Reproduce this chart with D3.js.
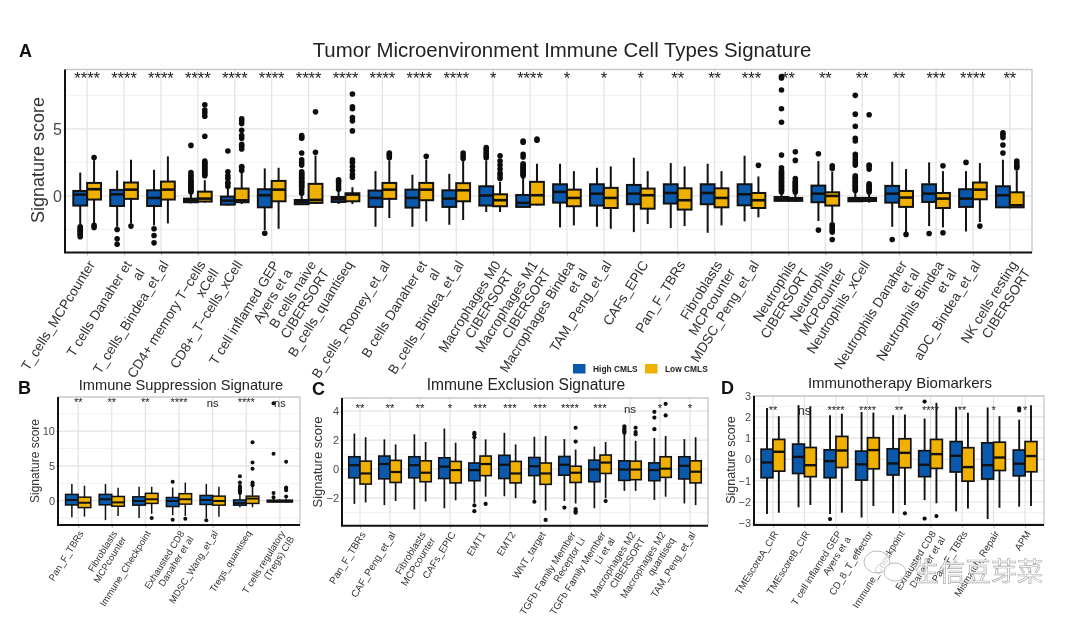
<!DOCTYPE html>
<html><head><meta charset="utf-8">
<script src="https://cdn.jsdelivr.net/npm/d3@7/dist/d3.min.js"></script>
<style>html,body{margin:0;background:#fff}svg{display:block;filter:blur(0.55px)}text{font-family:"Liberation Sans",Arial,sans-serif}</style>
</head><body><svg id="c" width="1080" height="618"></svg>
<script>
// ---------- Panel A data: [whiskerLow, q1, median, q3, whiskerHigh]
const aCategories = ["T_cells_MCPcounter","T cells Danaher et\nal","T_cells_Bindea_et_al","CD4+ memory T−cells\nxCell","CD8+_T−cells_xCell","T cell inflamed GEP\nAyers et a","B cells naive\nCIBERSORT","B_cells_quantiseq","B_cells_Rooney_et_al","B cells Danaher et\nal","B_cells_Bindea_et_al","Macrophages M0\nCIBERSORT","Macrophages M1\nCIBERSORT","Macrophages Bindea\net al","TAM_Peng_et_al","CAFs_EPIC","Pan_F_TBRs","Fibroblasts\nMCPcounter","MDSC_Peng_et_al","Neutrophils\nCIBERSORT","Neutrophils\nMCPcounter","Neutrophils_xCell","Neutrophils Danaher\net al","Neutrophils Bindea\net al","aDC_Bindea_et_al","NK cells resting\nCIBERSORT"];
const aSig = ["****","****","****","****","****","****","****","****","****","****","****","*","****","*","*","*","**","**","***","**","**","**","**","***","****","**"];
const aHigh = [[-2.2,-.72,.1,.37,1.74],[-2.3,-.75,.12,.45,1.9],[-2.2,-.75,-.15,.42,1.95],[-.55,-.47,-.32,-.2,.3],[-.7,-.65,-.35,-.05,.65],[-2.55,-.85,.05,.5,2.05],[-.65,-.62,-.45,-.3,.1],[-.6,-.45,-.25,-.08,.4],[-2.3,-.82,-.15,.4,1.85],[-2.3,-.87,-.15,.47,1.58],[-2.15,-.82,-.2,.42,1.65],[-1.2,-.72,.03,.72,2.65],[-.85,-.82,-.52,.07,1.35],[-2.35,-.5,.3,.87,2.4],[-2.3,-.72,.17,.87,2.1],[-2.7,-.62,.17,.82,2.85],[-2.4,-.57,.22,.87,2.45],[-2.75,-.62,.22,.87,2.4],[-1.9,-.7,.12,.87,3],[-.4,-.37,-.22,-.08,.2],[-1.87,-.47,.17,.77,2.6],[-.45,-.4,-.3,-.15,.3],[-2.3,-.5,.17,.75,2.55],[-2.25,-.45,.17,.87,2.5],[-2.65,-.82,-.2,.5,1.85],[-.9,-.85,.05,.72,2.7]];
const aLow = [[-2.05,-.27,.5,.97,2.66],[-2.05,-.22,.47,1,2.7],[-2.05,-.27,.47,1.07,2.95],[-.5,-.42,-.2,.32,1.17],[-.6,-.47,-.33,.55,1.8],[-2.45,-.4,.47,1.12,2.1],[-.6,-.52,-.3,.9,3],[-.6,-.4,.1,.2,.65],[-1.65,-.22,.47,.97,2.65],[-1.9,-.32,.47,.97,2.7],[-1.8,-.4,.42,.95,2.6],[-1.2,-.77,-.32,.12,1.05],[-.7,-.65,.05,1.05,2.4],[-2.2,-.77,-.15,.47,1.85],[-2.45,-.9,-.15,.6,2.2],[-2.1,-.95,.05,.55,1.85],[-2.25,-1.02,-.32,.57,2.2],[-2.2,-.85,-.15,.57,1.85],[-1.6,-.9,-.32,.22,1.45],[-.45,-.37,-.28,-.15,.2],[-1.95,-.72,0,.27,1.8],[-.5,-.38,-.3,-.15,.2],[-2.7,-.82,-.12,.37,2],[-2.35,-.9,-.2,.22,1.85],[-1.95,-.25,.47,1,2.45],[-.9,-.85,-.7,.27,1.9]];
const aHighOut = [[-2.3,-2.4,-2.5,-2.6,-2.7,-2.8,-2.9,-3.05],[-2.5,-3.2,-3.6],[-2.45,-2.95,-3.5],[.3,.4,.5,.6,.7,.8,.9,1,1.1,1.2,1.4,1.55,1.75,3.77],[.7,.9,1,1.3,1.5,1.8,3.35],[-2.78],[.2,.4,.6,.7,.8,.9,1,1.1,1.2,1.3,1.4,1.5,1.6,1.7,1.8,2.3,2.5,2.7,3.2,4.3,4.4,4.5],[.5,.7,.9,1.1,1.2],[],[],[],[2.85,3,3.15,3.3,3.45,3.6],[1.5,1.6,1.7,1.8,1.9,2,2.1,2.2,2.3,2.4,2.9,3.1,4,4.1],[],[],[],[],[],[],[.3,.4,.5,.6,.7,.8,.9,1,1.1,1.2,1.3,1.4,1.5,1.6,1.7,1.8,1.9,2.1,3.05,5.5,6.5,7.9,8.8,8.9],[3.15,-2.55],[.4,.5,.6,.7,.8,.9,1,1.1,1.2,1.3,1.4,1.5,2.3,2.5,2.7,2.9,3.1,4.1,4.3,5.2,6.1,7.5],[-3.25],[-2.8],[2.5],[3.2,3.8,4.35,4.55,4.7]];
const aLowOut = [[2.86,-2.2,-2.35],[-2.25],[],[1.5,1.6,1.7,1.8,1.9,2,2.1,2.2,2.3,2.4,2.5,2.6,4.45,5.95,6.2,6.4,6.8],[1.9,2.1,2.2,3.5,3.7,3.85,4.3,4.5,4.9,5.4,5.6,5.75],[],[3.25,6.27],[1.4,1.6,1.9,2.2,2.5,2.7,4.85,5.6,5.85,6.5,6.65,7.6],[2.85,3,3.1,3.2],[2.95],[2.8,3,3.2],[1.3,1.5,1.7,2,2.3,2.6,3],[4.15,4.25],[],[],[],[],[],[2.28],[.3,.4,.5,.6,.7,.8,.9,1,1.1,1.3,2.65,3.3],[2.05,2.25,-2.15,-2.3,-2.45,-2.6,-2.7,-3.25],[.3,.4,.5,.6,.7,.8,.9,2,2.2,2.3,6.05],[-2.87],[2.25,-2.75],[-2.25],[2.1,2.2,2.3,2.45,2.6]];

// ---------- Panel B data
const bCategories = ["Pan_F_TBRs","Fibroblasts\nMCPcounter","Immune_Checkpoint","Exhausted CD8\nDanaher et al","MDSC_Wang_et_al","Tregs_quantiseq","T cells regulatory\n(Tregs) CIB"];
const bSig = ["**","**","**","****","ns","****","ns"];
const bHigh = [[-2.4,-.62,.1,.9,2.4],[-2.8,-.6,.2,.9,2.4],[-2.5,-.65,-.05,.55,2],[-2.1,-.85,-.05,.45,1.9],[-2.5,-.55,.1,.75,2.4],[-.95,-.65,-.35,.1,1],[-.3,-.2,-.05,.07,.3]];
const bLow = [[-2.3,-1,-.3,.5,2.15],[-2.2,-.8,-.25,.6,1.85],[-1.9,-.4,.2,1.05,2],[-2.2,-.5,.2,1,2.6],[-2.3,-.65,-.05,.65,2],[-.95,-.4,.3,.65,2],[-.3,-.2,-.05,.07,.3]];
const bHighOut = [[],[],[],[2.7,-2.75],[-2.8],[1.1,1.3,1.5,1.7,1.9,2.1,2.6,3.5],[.5,1.1,6.75,14]];
const bLowOut = [[],[],[-2.5],[-2.6],[],[2.2,2.4,2.6,4.6,5.5,8.4],[.6,1.5,1.7,1.9,5.6]];

// ---------- Panel C data
const cCategories = ["Pan_F_TBRs","CAF_Peng_et_al","Fibroblasts\nMCPcounter","CAFs_EPIC","EMT1","EMT2","WNT_target","TGFb Family Member\nReceptor Li","TGFb Family Member\nLi et al","Macrophages M2\nCIBERSORT","Macrophages M2\nquantiseq","TAM_Peng_et_al"];
const cSig = ["**","**","**","*","***","***","***","****","***","ns","*","*"];
const cHigh = [[-2.4,-.6,.27,.85,2.45],[-2.48,-.67,.35,.9,2.05],[-2.78,-.6,.27,.85,2.4],[-2.7,-.65,.17,.78,2.8],[-2.32,-.8,-.07,.42,2.1],[-1.87,-.65,.3,.95,2.5],[-2.15,-.45,.2,.8,2.23],[-2.2,-.42,.3,.87,2.07],[-2.7,-.87,-.03,.62,1.55],[-1.5,-.78,-.03,.57,2.45],[-2.13,-.8,-.07,.43,2.15],[-2.37,-.68,.23,.85,2.07]];
const cLow = [[-2.3,-1.03,-.3,.55,2.2],[-2.2,-.92,-.2,.6,1.7],[-2.23,-.87,-.25,.57,1.87],[-2.15,-.95,-.07,.53,1.82],[-1.9,-.45,.35,.9,2.05],[-2,-.95,-.3,.53,1.7],[-2.85,-1.05,-.3,.42,2.28],[-2.37,-.92,-.25,.2,1.35],[-2,-.3,.45,.97,1.87],[-1.5,-.73,-.03,.55,1.95],[-1.9,-.57,.03,.85,2.28],[-2.48,-.95,-.18,.57,2.2]];
const cHighOut = [[],[],[],[],[2.2,2.4,2.5,-2.5,-2.9],[],[-2.25],[-2.65],[],[2.5,2.6,2.7,2.8,2.95],[2.75,3.55,3.95],[]];
const cLowOut = [[],[],[],[],[-2.4],[],[-3.5],[1.9,2.85,-2.75,-2.9,-3],[-2.2],[2.4,2.55,2.85],[3.7,4.5],[]];

// ---------- Panel D data
const dCategories = ["TMEscoreA_CIR","TMEscoreB_CIR","T cell inflamed GEP\nAyers et a","CD_8_T_effector","Immune_Checkpoint","Exhausted CD8\nDanaher et al","Pan_F_TBRs","Mismatch_Repair","APM"];
const dSig = ["**","ns","****","****","**","****","**","*","*"];
const dHigh = [[-2.56,-.86,-.14,.48,2.42],[-2.25,-.66,.12,.72,2.55],[-2.56,-.86,-.08,.45,2.08],[-2.73,-.97,-.23,.39,2.23],[-2.53,-.73,-.19,.5,2.08],[-1.91,-.81,-.25,.41,1.92],[-2.44,-.59,.17,.84,2.47],[-2.8,-.92,-.27,.78,2.44],[-2.22,-.77,-.2,.44,1.87]];
const dLow = [[-2.5,-.55,.36,.94,2.03],[-2.14,-.81,-.27,.56,2.5],[-2.5,-.38,.42,1.08,2.15],[-2.19,-.44,.44,1.02,2.2],[-2.14,-.39,.31,.97,2.11],[-2.06,-.42,.25,.94,2.66],[-2.31,-1.02,-.36,.55,2.19],[-2.27,-.52,.09,.81,2.03],[-2.19,-.58,.16,.84,2.55]];
const dHighOut = [[],[],[-2.8],[],[],[2.72,-2.78],[],[],[2.3,2.4]];
const dLowOut = [[],[],[],[],[-2.53],[-2.66],[],[],[]];

const groups = ["High CMLS","Low CMLS"];
const colors = ["#0a59ac","#efb000"];
const svg = d3.select("#c");

const layouts = [
 {cats:aCategories,sig:aSig,hi:aHigh,lo:aLow,hiO:aHighOut,loO:aLowOut,l:65,r:1032,t:69.5,b:252.5,dom:[-4.22,9.43],ticks:[0,5],minor:[-2.5,2.5,7.5],
  title:"Tumor Microenvironment Immune Cell Types Signature",tx:562,ty:57,tf:20.4,letter:"A",lx:19,ly:57,lf:18,yl:"Signature score",ylx:44,yly:160,ylf:18,tickF:16,lab:13.6,rD:2.8,bw:2,wh:2,med:2.6,sigF:16.5,sigY:84,nsF:14,nsY:80},
 {cats:bCategories,sig:bSig,hi:bHigh,lo:bLow,hiO:bHighOut,loO:bLowOut,l:58,r:300,t:397,b:525,dom:[-3.5,14.9],ticks:[0,5,10],minor:[-2.5,2.5,7.5,12.5],
  title:"Immune Suppression Signature",tx:181,ty:390,tf:14.6,letter:"B",lx:18,ly:394,lf:18,yl:"Signature score",ylx:39,yly:461,ylf:12,tickF:11,lab:9.5,rD:2,bw:1.5,wh:1.5,med:2,sigF:11,sigY:406,nsF:11,nsY:407},
 {cats:cCategories,sig:cSig,hi:cHigh,lo:cLow,hiO:cHighOut,loO:cLowOut,l:342,r:708,t:398,b:525.7,dom:[-3.9,4.9],ticks:[-2,0,2,4],minor:[-3,-1,1,3],
  title:"Immune Exclusion Signature",tx:526,ty:390,tf:15.6,letter:"C",lx:312,ly:395,lf:18,yl:"Signature score",ylx:322,yly:462,ylf:13,tickF:11,lab:9.9,rD:2.1,bw:1.6,wh:1.7,med:2.2,sigF:11.5,sigY:412,nsF:11.5,nsY:413},
 {cats:dCategories,sig:dSig,hi:dHigh,lo:dLow,hiO:dHighOut,loO:dLowOut,l:754,r:1044,t:396,b:525,dom:[-3.08,2.98],ticks:[-3,-2,-1,0,1,2,3],minor:[-2.5,-1.5,-.5,.5,1.5,2.5],
  title:"Immunotherapy Biomarkers",tx:900,ty:388,tf:15,letter:"D",lx:721,ly:394,lf:18,yl:"Signature score",ylx:735,yly:460,ylf:12.5,tickF:11,lab:9.7,rD:2.1,bw:1.7,wh:1.9,med:2.4,sigF:11,sigY:414,nsF:12,nsY:415}
];

layouts.forEach(p=>{
  const x = d3.scalePoint().domain(p.cats).range([p.l,p.r]).padding(0.6);
  const y = d3.scaleLinear().domain(p.dom).range([p.b,p.t]);
  const step = x.step();
  const dodge = d3.scaleBand().domain(groups).range([-0.375*step,0.375*step]);
  const g = svg.append("g");

  g.selectAll(".mn").data(p.minor).join("line").attr("x1",p.l).attr("x2",p.r).attr("y1",d=>y(d)).attr("y2",d=>y(d)).attr("stroke","#ededed").attr("stroke-width",.8);
  g.selectAll(".mj").data(p.ticks).join("line").attr("x1",p.l).attr("x2",p.r).attr("y1",d=>y(d)).attr("y2",d=>y(d)).attr("stroke","#e3e3e3").attr("stroke-width",1.2);
  g.selectAll(".vg").data(p.cats).join("line").attr("x1",d=>x(d)).attr("x2",d=>x(d)).attr("y1",p.t).attr("y2",p.b).attr("stroke","#e3e3e3").attr("stroke-width",1.2);

  g.append("path").attr("d",`M${p.l},${p.t}H${p.r}V${p.b}`).attr("fill","none").attr("stroke","#c9c9c9").attr("stroke-width",1.4);

  [[p.hi,p.hiO],[p.lo,p.loO]].forEach(([stats,outs],gi)=>{
    const off = dodge(groups[gi]);
    const bw = dodge.bandwidth();
    p.cats.forEach((c,i)=>{
      const [wl,q1,m,q3,wh] = stats[i];
      const cx = x(c)+off+bw/2;
      const gg = g.append("g");
      gg.append("line").attr("x1",cx).attr("x2",cx).attr("y1",y(wl)).attr("y2",y(wh)).attr("stroke","#111").attr("stroke-width",p.wh);
      gg.selectAll("circle").data(outs[i]).join("circle").attr("cx",cx).attr("cy",d=>y(d)).attr("r",p.rD).attr("fill","#0c0c0c");
      gg.append("rect").attr("x",x(c)+off).attr("width",bw).attr("y",y(q3)).attr("height",y(q1)-y(q3)).attr("fill",colors[gi]).attr("stroke","#111").attr("stroke-width",p.bw);
      gg.append("line").attr("x1",x(c)+off).attr("x2",x(c)+off+bw).attr("y1",y(m)).attr("y2",y(m)).attr("stroke","#111").attr("stroke-width",p.med);
    });
  });

  g.selectAll(".sig").data(p.sig.map((s,i)=>({s,c:p.cats[i]}))).join("text").attr("x",d=>x(d.c)).attr("y",d=>d.s==="ns"?p.nsY:p.sigY).attr("text-anchor","middle").attr("font-size",d=>d.s==="ns"?p.nsF:p.sigF).attr("fill","#222").text(d=>d.s);

  const ya = g.append("g").attr("transform",`translate(${p.l},0)`).call(d3.axisLeft(y).tickValues(p.ticks).tickSize(2).tickPadding(1).tickFormat(d=>String(d).replace("-","−")));
  ya.selectAll("text").attr("font-size",p.tickF).attr("fill","#4a4a4a").style("font-family",'"Liberation Sans",Arial,sans-serif');
  ya.selectAll(".tick line").attr("stroke","#ccc");
  ya.select(".domain").remove();
  const xa = g.append("g").attr("transform",`translate(0,${p.b})`).call(d3.axisBottom(x).tickSize(3).tickFormat(""));
  xa.select(".domain").remove();
  xa.selectAll(".tick line").attr("stroke","#bbb");
  g.append("path").attr("d",`M${p.l},${p.t}V${p.b}H${p.r}`).attr("fill","none").attr("stroke","#111").attr("stroke-width",2);

  const lb = g.selectAll(".lab").data(p.cats).join("text").attr("text-anchor","end").attr("font-size",p.lab).attr("fill","#303030")
    .attr("transform",d=>`translate(${x(d)+p.lab*0.35},${p.b+p.lab*0.72}) rotate(-58)`);
  lb.each(function(d){
    d3.select(this).selectAll("tspan").data(d.split("\n")).join("tspan").attr("x",0).attr("dy",(_,i)=>i?"1.12em":"0.3em").text(t=>t);
  });

  g.append("text").attr("x",p.tx).attr("y",p.ty).attr("text-anchor","middle").attr("font-size",p.tf).attr("fill","#222").text(p.title);
  g.append("text").attr("x",p.lx).attr("y",p.ly).attr("font-size",p.lf).attr("font-weight","bold").attr("fill","#111").text(p.letter);
  g.append("text").attr("transform",`translate(${p.ylx},${p.yly}) rotate(-90)`).attr("text-anchor","middle").attr("font-size",p.ylf).attr("fill","#333").text(p.yl);
});

const legendX = d3.scaleOrdinal().domain(groups).range([573,645]);
const lg = svg.selectAll(".lg").data(groups).join("g").attr("transform",d=>`translate(${legendX(d)},364)`);
lg.append("rect").attr("width",12.5).attr("height",9.5).attr("fill",(d,i)=>colors[i]);
lg.append("text").attr("x",20).attr("y",8).attr("font-size",8.4).attr("font-weight","bold").attr("fill","#222").text(d=>d);

const wm = svg.append("g");
wm.append("ellipse").attr("cx",877).attr("cy",562).attr("rx",13).attr("ry",11).attr("fill","#fff").attr("fill-opacity",.75).attr("stroke","#bbb");
wm.append("ellipse").attr("cx",895).attr("cy",572).attr("rx",11).attr("ry",9).attr("fill","#fff").attr("fill-opacity",.75).attr("stroke","#bbb");
wm.append("text").attr("x",913).attr("y",581).attr("font-size",26).style("font-family",'"Noto Sans CJK SC"').attr("fill","#fff").attr("stroke","#aaa").attr("stroke-width",.7).text("生信豆芽菜");
</script></body></html>
